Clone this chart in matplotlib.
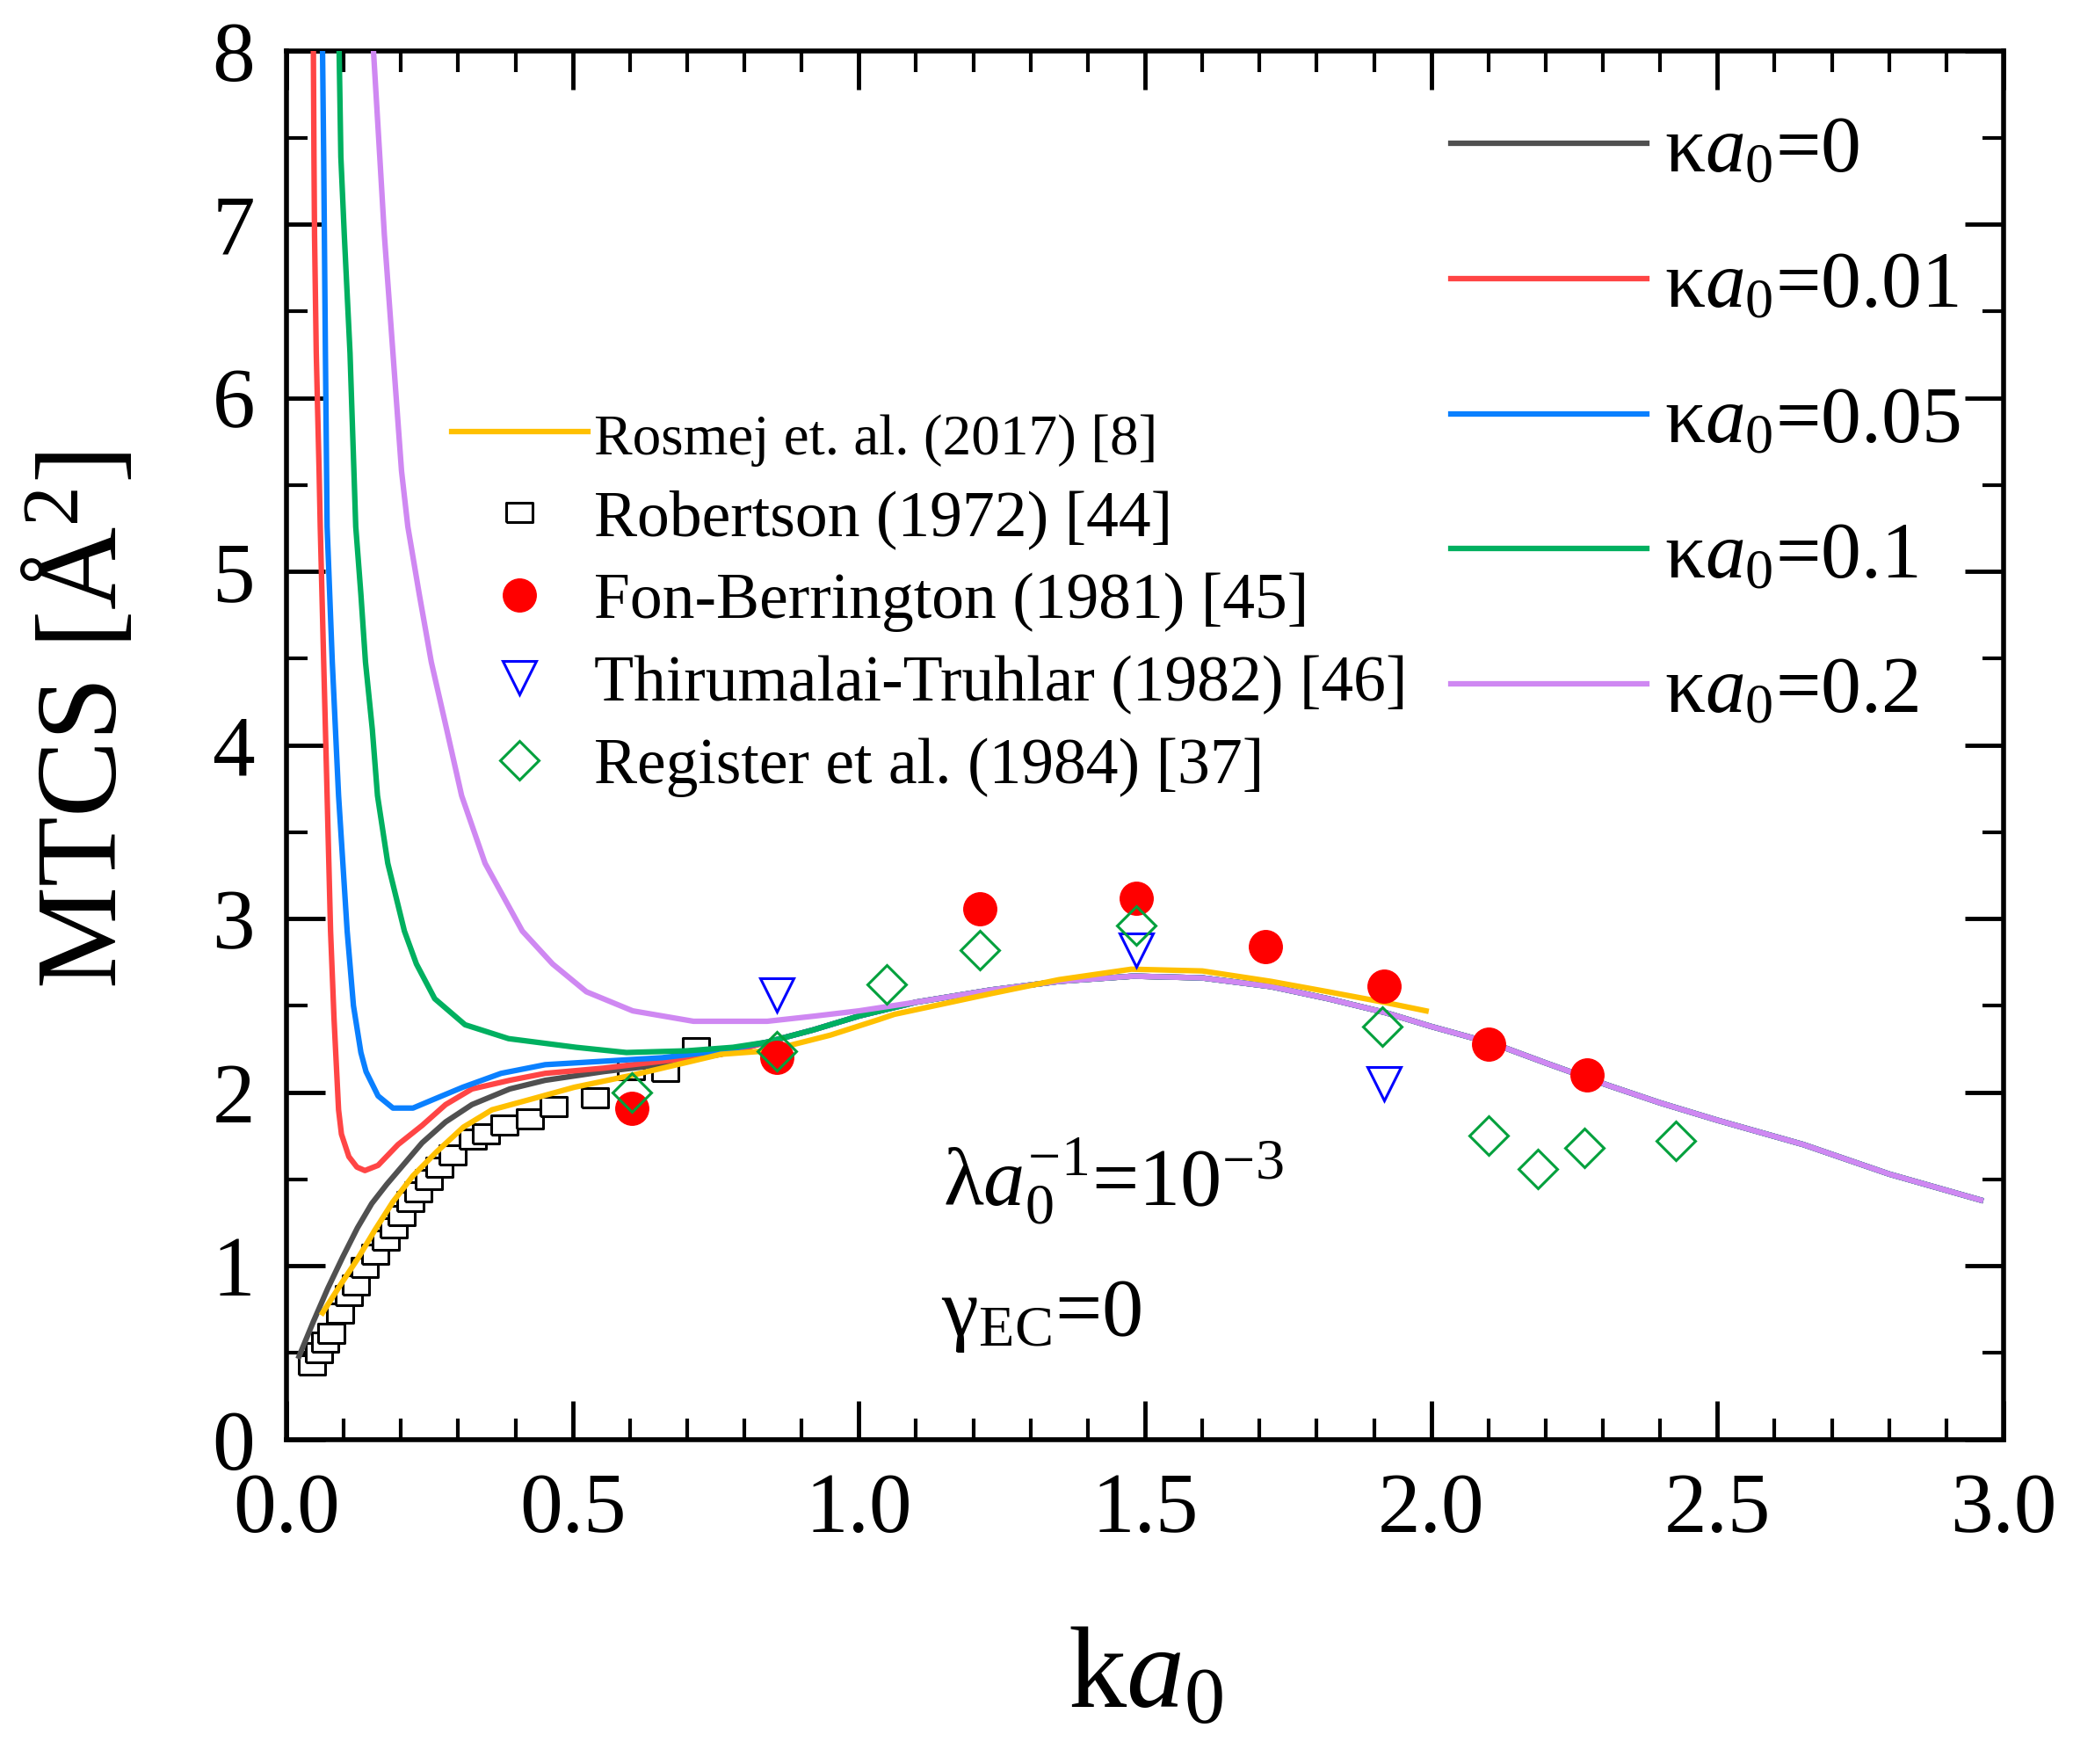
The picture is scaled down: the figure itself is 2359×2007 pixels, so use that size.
import numpy as np
import matplotlib
matplotlib.use("Agg")
import matplotlib.pyplot as plt
from matplotlib.ticker import MultipleLocator

plt.rcParams['font.family'] = ['Liberation Serif', 'DejaVu Serif']
plt.rcParams['mathtext.fontset'] = 'custom'
plt.rcParams['mathtext.rm'] = 'Liberation Serif'
plt.rcParams['mathtext.it'] = 'Liberation Serif:italic'
plt.rcParams['mathtext.bf'] = 'Liberation Serif:bold'

# ---- data ----
# shared part of the screened curves (k a0 > ~0.8)
tail_x = [0.84, 0.92, 1.00, 1.10, 1.23, 1.35, 1.48, 1.60, 1.72, 1.82, 1.92, 2.00,
          2.11, 2.20, 2.31, 2.40, 2.50, 2.65, 2.80, 2.96]
tail_y = [2.29, 2.36, 2.44, 2.52, 2.59, 2.64, 2.67, 2.66, 2.61, 2.54, 2.46, 2.38,
          2.28, 2.17, 2.04, 1.94, 1.84, 1.70, 1.53, 1.38]

k0_x = [0.022, 0.047, 0.072, 0.098, 0.124, 0.149, 0.175, 0.206, 0.237, 0.278,
        0.324, 0.390, 0.452, 0.554, 0.656, 0.759]
k0_y = [0.48, 0.68, 0.87, 1.05, 1.22, 1.36, 1.47, 1.59, 1.71, 1.83,
        1.93, 2.02, 2.07, 2.12, 2.16, 2.22]

k001_x = [0.047, 0.048, 0.049, 0.052, 0.057, 0.059, 0.065, 0.071, 0.077, 0.083,
          0.086, 0.091, 0.096, 0.109, 0.123, 0.137, 0.160, 0.195, 0.237, 0.278,
          0.324, 0.390, 0.452, 0.554, 0.656, 0.759]
k001_y = [8.0, 7.39, 6.94, 6.26, 5.58, 5.26, 4.48, 3.71, 2.93, 2.43,
          2.23, 1.90, 1.76, 1.63, 1.57, 1.55, 1.58, 1.70, 1.81, 1.93,
          2.02, 2.07, 2.11, 2.14, 2.18, 2.22]

k005_x = [0.063, 0.065, 0.068, 0.071, 0.080, 0.091, 0.106, 0.117, 0.130, 0.139,
          0.160, 0.186, 0.221, 0.257, 0.308, 0.375, 0.452, 0.554, 0.656, 0.759]
k005_y = [8.0, 7.39, 6.26, 5.26, 4.48, 3.71, 2.93, 2.50, 2.23, 2.12,
          1.98, 1.91, 1.91, 1.96, 2.03, 2.11, 2.16, 2.18, 2.20, 2.24]

k01_x = [0.092, 0.095, 0.101, 0.111, 0.121, 0.130, 0.138, 0.150, 0.159, 0.177,
         0.206, 0.227, 0.259, 0.312, 0.388, 0.506, 0.594, 0.700, 0.780]
k01_y = [8.0, 7.39, 6.94, 6.26, 5.26, 4.87, 4.48, 4.09, 3.71, 3.32,
         2.93, 2.74, 2.54, 2.39, 2.31, 2.26, 2.23, 2.24, 2.26]

k02_x = [0.152, 0.163, 0.171, 0.186, 0.201, 0.212, 0.232, 0.253, 0.280, 0.306,
         0.347, 0.412, 0.465, 0.524, 0.605, 0.711, 0.840, 0.923, 1.000]
k02_y = [8.0, 7.39, 6.94, 6.26, 5.58, 5.26, 4.87, 4.48, 4.09, 3.71,
         3.32, 2.93, 2.74, 2.58, 2.47, 2.41, 2.41, 2.44, 2.47]

rosmej_x = [0.063, 0.094, 0.124, 0.155, 0.186, 0.221, 0.263, 0.309, 0.359, 0.426,
            0.503, 0.605, 0.708, 0.759, 0.842, 0.950, 1.035, 1.062, 1.232, 1.350,
            1.476, 1.600, 1.720, 1.820, 1.917, 1.991]
rosmej_y = [0.73, 0.89, 1.04, 1.21, 1.37, 1.52, 1.66, 1.80, 1.90, 1.96,
            2.03, 2.10, 2.18, 2.22, 2.24, 2.33, 2.42, 2.45, 2.57, 2.65,
            2.71, 2.70, 2.64, 2.58, 2.52, 2.47]

robertson_x = [0.045, 0.057, 0.068, 0.078, 0.093, 0.109, 0.121, 0.137, 0.155, 0.173,
               0.188, 0.201, 0.216, 0.231, 0.249, 0.267, 0.290, 0.326, 0.349, 0.380,
               0.426, 0.467, 0.539, 0.602, 0.662, 0.715]
robertson_y = [0.43, 0.50, 0.56, 0.61, 0.73, 0.83, 0.89, 0.99, 1.07, 1.15,
               1.22, 1.29, 1.37, 1.43, 1.50, 1.57, 1.64, 1.73, 1.76, 1.81,
               1.85, 1.92, 1.97, 2.13, 2.12, 2.26]

fon_x = [0.604, 0.856, 1.212, 1.484, 1.711, 1.917, 2.101, 2.272]
fon_y = [1.91, 2.20, 3.06, 3.12, 2.84, 2.61, 2.28, 2.10]

thir_x = [0.856, 1.484, 1.917]
thir_y = [2.56, 2.82, 2.05]

reg_x = [0.604, 0.856, 1.049, 1.212, 1.484, 1.914, 2.101, 2.186, 2.267, 2.427]
reg_y = [2.00, 2.24, 2.62, 2.82, 2.96, 2.38, 1.75, 1.56, 1.68, 1.72]

curve_labels = [r'κ$a_0$=0', r'κ$a_0$=0.01', r'κ$a_0$=0.05', r'κ$a_0$=0.1', r'κ$a_0$=0.2']
curve_colors = ['#505050', '#FF4545', '#0A80FF', '#00B060', '#CF88F2']

# ---- figure ----
fig = plt.figure(figsize=(23.59, 20.07), dpi=100)
ax = fig.add_axes([0.1382, 0.1839, 0.8283, 0.7872])

rect_marker = [(-1.35, -1), (1.35, -1), (1.35, 1), (-1.35, 1), (-1.35, -1)]
sq, = ax.plot(robertson_x, robertson_y, linestyle='none', marker=rect_marker,
              markersize=22, markerfacecolor='white', markeredgecolor='black',
              markeredgewidth=2.2, label='Robertson (1972) [44]', zorder=2)

lw = 4.5
curves = [
    (k0_x + tail_x, k0_y + tail_y),
    (k001_x + tail_x, k001_y + tail_y),
    (k005_x + tail_x, k005_y + tail_y),
    (k01_x + tail_x, k01_y + tail_y),
    (k02_x + tail_x[3:], k02_y + tail_y[3:]),
]
kappa_lines = []
for (cx, cy), lab, col in zip(curves, curve_labels, curve_colors):
    ln, = ax.plot(cx, cy, color=col, lw=lw, label=lab, zorder=3)
    kappa_lines.append(ln)

ros, = ax.plot(rosmej_x, rosmej_y, color='#FFC000', lw=lw,
               label='Rosmej et. al. (2017) [8]', zorder=4)

ci, = ax.plot(fon_x, fon_y, linestyle='none', marker='o', markersize=27,
              markerfacecolor='#FF0000', markeredgecolor='#FF0000',
              label='Fon-Berrington (1981) [45]', zorder=5)
tr, = ax.plot(thir_x, thir_y, linestyle='none', marker='v', markersize=27,
              markerfacecolor='none', markeredgecolor='#0000FF', markeredgewidth=2.2,
              label='Thirumalai-Truhlar (1982) [46]', zorder=6)
di, = ax.plot(reg_x, reg_y, linestyle='none', marker='D', markersize=22,
              markerfacecolor='none', markeredgecolor='#00A03C', markeredgewidth=2.2,
              label='Register et al. (1984) [37]', zorder=6)

ax.set_xlim(0, 3.0)
ax.set_ylim(0, 8)
ax.xaxis.set_major_locator(MultipleLocator(0.5))
ax.xaxis.set_minor_locator(MultipleLocator(0.1))
ax.yaxis.set_major_locator(MultipleLocator(1))
ax.yaxis.set_minor_locator(MultipleLocator(0.5))
ax.xaxis.set_major_formatter(matplotlib.ticker.FormatStrFormatter('%.1f'))

ax.tick_params(which='both', direction='in', top=True, right=True, labelsize=70)
ax.tick_params(which='major', length=32, width=3.5)
ax.tick_params(which='minor', length=17, width=3)
ax.tick_params(axis='x', which='major', pad=27)
ax.tick_params(axis='y', which='major', pad=26)
for sp in ax.spines.values():
    sp.set_linewidth(4)

ax.set_xlabel(r'k$a_0$', fontsize=95)
ax.set_ylabel(r'MTCS [Å$^2$]', fontsize=94)
ax.xaxis.set_label_coords(0.5, -0.135)
ax.yaxis.set_label_coords(-0.085, 0.518)

ax.text(1.147, 1.35, r'λ$a_0^{-1}$=10$^{-3}$', fontsize=68, va='baseline', ha='left')
ax.text(1.144, 0.60, r'γ$_{\mathrm{EC}}$=0', fontsize=68, va='baseline', ha='left')

leg1 = ax.legend(handles=kappa_lines, loc='upper left',
                 bbox_to_anchor=(1651 / 2359, 1 - 131 / 2007),
                 bbox_transform=fig.transFigure, frameon=False, fontsize=66,
                 handlelength=2.43, handletextpad=0.22, labelspacing=0.77,
                 borderpad=0, borderaxespad=0)
ax.add_artist(leg1)

leg2 = ax.legend(handles=[ros, sq, ci, tr, di], loc='upper left',
                 bbox_to_anchor=(514 / 2359, 1 - 465 / 2007),
                 bbox_transform=fig.transFigure, frameon=False, fontsize=53,
                 handlelength=2.1, handletextpad=0.1, labelspacing=0.36,
                 borderpad=0, borderaxespad=0, numpoints=1)
leg2.get_texts()[0].set_fontsize(47)

fig.savefig('out.png', dpi=100)
